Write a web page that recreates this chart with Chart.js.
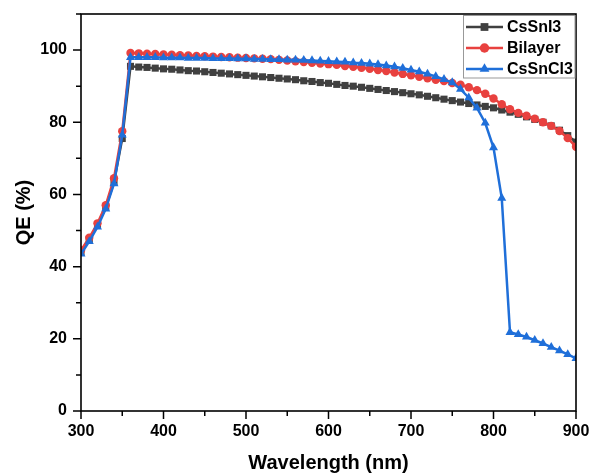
<!DOCTYPE html>
<html>
<head>
<meta charset="utf-8">
<script src="https://cdn.jsdelivr.net/npm/chart.js@4.4.0/dist/chart.umd.min.js"></script>
<style>
html,body{margin:0;padding:0;background:#fff;}
#wrap{width:590px;height:475px;}
</style>
</head>
<body>
<div id="wrap"><canvas id="c" width="590" height="475"></canvas></div>
<script>
const wavelengths = [300,310,320,330,340,350,360,370,380,390,400,410,420,430,440,450,460,470,480,490,500,510,520,530,540,550,560,570,580,590,600,610,620,630,640,650,660,670,680,690,700,710,720,730,740,750,760,770,780,790,800,810,820,830,840,850,860,870,880,890,900];

const csSnI3 = [44,47.5,51.5,56.5,63.5,75.5,95.5,95.3,95.2,95.0,94.8,94.7,94.5,94.3,94.2,94.0,93.8,93.6,93.4,93.2,93.0,92.8,92.6,92.4,92.2,92.0,91.8,91.5,91.3,91.0,90.8,90.5,90.2,90.0,89.7,89.4,89.1,88.8,88.5,88.2,87.9,87.6,87.2,86.8,86.4,86.0,85.6,85.2,84.8,84.4,84.0,83.4,82.8,82.2,81.5,80.8,80.0,79.0,77.8,76.3,74.5];

const bilayer = [44.5,48,52,57,64.5,77.5,99.2,99.1,99.0,98.9,98.8,98.7,98.6,98.5,98.4,98.3,98.2,98.1,98.0,97.9,97.8,97.7,97.6,97.5,97.3,97.1,96.9,96.7,96.5,96.3,96.1,95.9,95.6,95.4,95.1,94.8,94.5,94.2,93.8,93.4,93.0,92.6,92.2,91.8,91.4,90.9,90.4,89.7,88.9,87.9,86.6,85.0,83.6,82.6,81.8,81.0,80.0,79.0,77.6,75.6,73.2];

const csSnCl3 = [43.5,47,51,56,63,76.5,98.0,98.0,98.0,98.0,97.9,97.9,97.9,97.8,97.8,97.8,97.7,97.7,97.7,97.6,97.6,97.5,97.5,97.4,97.4,97.3,97.3,97.2,97.1,97.0,96.9,96.8,96.7,96.5,96.4,96.2,96.0,95.7,95.4,95.0,94.5,94.0,93.4,92.7,91.9,91.0,89.2,86.8,84.0,79.8,73.0,59.0,21.8,21.2,20.5,19.6,18.7,17.7,16.7,15.7,14.6];

const xTicks = [300,400,500,600,700,800,900];
const yTicks = [0,20,40,60,80,100];
const seriesNames = ['CsSnI3','Bilayer','CsSnCl3'];

const colors = ['#404040','#e8413f','#1f6fd9'];
const styles = ['rect','circle','triangle'];
const radii = [5,4.2,5.2];

function pts(arr){ return wavelengths.map((w,i)=>({x:w,y:arr[i]})); }

const FONT = '"Liberation Sans", Arial, Helvetica, sans-serif';

function drawMarker(ctx, style, x, y, r, color){
  ctx.save();
  ctx.fillStyle = color;
  ctx.beginPath();
  if(style==='rect'){
    const s = r*Math.SQRT2;
    ctx.rect(x-s/2,y-s/2,s,s);
  } else if(style==='circle'){
    ctx.arc(x,y,r,0,Math.PI*2);
  } else {
    const w = r*1.732;
    ctx.moveTo(x, y - r);
    ctx.lineTo(x - w/2, y + r*0.5);
    ctx.lineTo(x + w/2, y + r*0.5);
    ctx.closePath();
  }
  ctx.fill();
  ctx.restore();
}

const framePlugin = {
  id:'frame',
  afterDatasetsDraw(chart){
    const {ctx, chartArea:a, scales} = chart;
    ctx.save();
    ctx.strokeStyle = '#000';
    ctx.lineWidth = 1.6;
    ctx.strokeRect(a.left, a.top, a.right-a.left, a.bottom-a.top);
    const xs = scales.x, ys = scales.y;
    ctx.lineWidth = 1.5;
    ctx.beginPath();
    for(let v=300; v<=900; v+=50){
      const px = xs.getPixelForValue(v);
      const len = (v%100===0)?8:5;
      ctx.moveTo(px, a.bottom); ctx.lineTo(px, a.bottom+len);
    }
    for(let v=0; v<=110; v+=10){
      const py = ys.getPixelForValue(v);
      const len = (v%20===0)?8:5;
      ctx.moveTo(a.left, py); ctx.lineTo(a.left-len, py);
    }
    ctx.stroke();
    // legend
    const lx = 463, ly = a.top, lw = a.right - lx, lh = 64;
    ctx.fillStyle = '#fff';
    ctx.fillRect(lx, ly+1, lw-1, lh);
    ctx.strokeStyle = '#999';
    ctx.lineWidth = 1;
    ctx.strokeRect(lx+0.5, ly+1.5, lw-1.5, lh-1.5);
    chart.data.datasets.forEach((ds,i)=>{
      const cy = 27 + i*21;
      ctx.strokeStyle = ds.borderColor;
      ctx.lineWidth = 2.5;
      ctx.beginPath(); ctx.moveTo(466, cy); ctx.lineTo(503, cy); ctx.stroke();
      drawMarker(ctx, styles[i], 484.5, cy, radii[i]+0.5, ds.borderColor);
      ctx.fillStyle = '#000';
      ctx.font = 'bold 16px ' + FONT;
      ctx.textBaseline = 'middle';
      ctx.textAlign = 'left';
      ctx.fillText(ds.label, 507, cy+1);
    });
    ctx.restore();
  }
};

const datasets = [csSnI3, bilayer, csSnCl3].map((arr,i)=>({
  label: seriesNames[i],
  data: pts(arr),
  borderColor: colors[i],
  backgroundColor: colors[i],
  borderWidth: 2.5,
  pointStyle: styles[i],
  pointRadius: radii[i],
  pointBorderWidth: 0,
  pointBackgroundColor: colors[i],
  tension: 0,
  order: 3 - i
}));

new Chart(document.getElementById('c'), {
  type:'line',
  data:{ datasets },
  plugins:[framePlugin],
  options:{
    responsive:false,
    animation:false,
    devicePixelRatio:1,
    layout:{ padding:{left:0, top:14, right:14, bottom:0} },
    plugins:{ legend:{display:false}, tooltip:{enabled:false} },
    scales:{
      x:{
        type:'linear', min:300, max:900,
        afterFit(s){ s.height = 64; s.paddingLeft = 0; s.paddingRight = 0; },
        afterBuildTicks(s){ s.ticks = xTicks.map(v=>({value:v})); },
        grid:{ display:true, drawOnChartArea:false, drawTicks:false },
        border:{ display:false },
        ticks:{ padding:11, color:'#000', font:{family:FONT, size:16, weight:'bold'}, maxRotation:0 },
        title:{ display:true, text:'Wavelength (nm)', color:'#000', font:{family:FONT, size:20, weight:'bold'}, padding:{top:0,bottom:0} }
      },
      y:{
        type:'linear', min:0, max:110,
        afterFit(s){ s.width = 81; s.paddingTop = 0; s.paddingBottom = 0; },
        afterBuildTicks(s){ s.ticks = yTicks.map(v=>({value:v})); },
        grid:{ display:true, drawOnChartArea:false, drawTicks:false },
        border:{ display:false },
        ticks:{ padding:14, color:'#000', font:{family:FONT, size:16, weight:'bold'} },
        title:{ display:true, text:'QE (%)', color:'#000', font:{family:FONT, size:20, weight:'bold'}, padding:{top:12,bottom:0} }
      }
    }
  }
});
</script>
</body>
</html>
